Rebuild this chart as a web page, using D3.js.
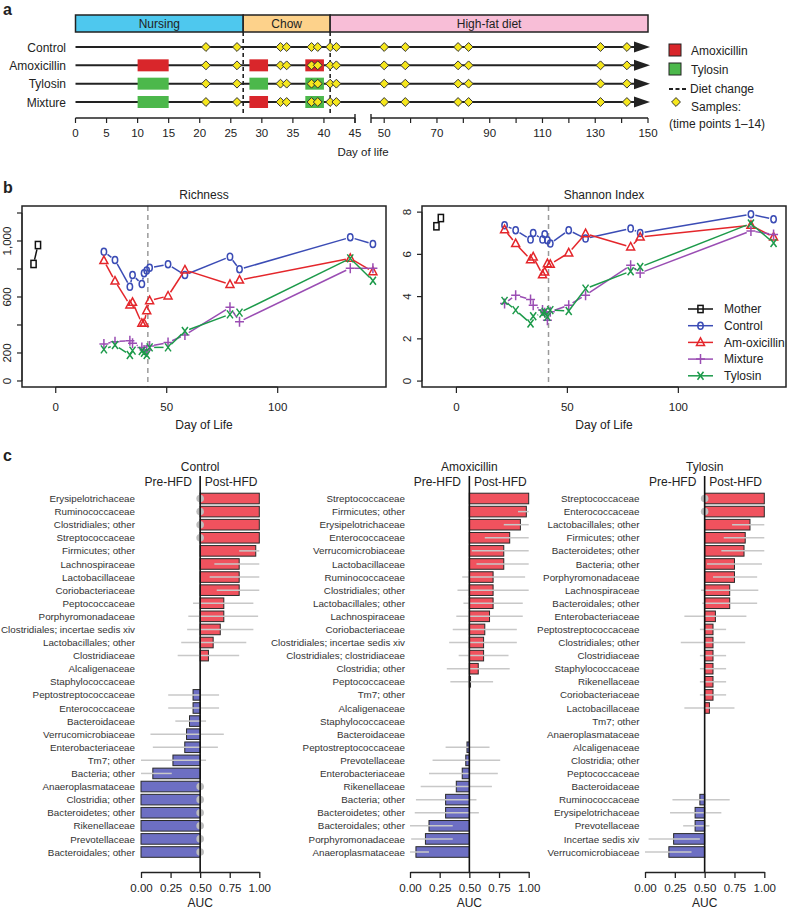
<!DOCTYPE html>
<html><head><meta charset="utf-8">
<script src="https://cdn.jsdelivr.net/npm/d3@7"></script>
<style>
body{margin:0;background:#fff;}
svg{font-family:"Liberation Sans",Arial,Helvetica,sans-serif;}
</style></head><body>
<svg id="chart" width="788" height="913"></svg>
<script>
// ================= DATA =================
// Panel a
const dietPhases = ["Nursing", "Chow", "High-fat diet"];
const dietStart = [0, 27, 41];
const dietEnd = [27, 41, 150];
const dietChangeDays = [27, 41];
const groupNames = ["Control", "Amoxicillin", "Tylosin", "Mixture"];
const sampleDays = [21, 26, 33, 34, 38, 39, 41, 42, 50, 58, 78, 82, 132, 142];
const treatGroup = ["Amoxicillin","Amoxicillin","Amoxicillin","Tylosin","Tylosin","Tylosin","Mixture","Mixture","Mixture"];
const treatStart = [10, 28, 37, 10, 28, 37, 10, 28, 37];
const treatEnd   = [15, 31, 40, 15, 31, 40, 15, 31, 40];
const treatDrug  = ["Amoxicillin","Amoxicillin","Amoxicillin","Tylosin","Tylosin","Tylosin","Tylosin","Amoxicillin","Tylosin"];
const axisTicksEarly = [0, 5, 10, 15, 20, 25, 30, 35, 40, 45];
const axisTicksLate = [50, 60, 70, 80, 90, 100, 110, 120, 130, 140, 150];
const axisLabelsLate = [50, 70, 90, 110, 130, 150];

// Panel b
const bDays = [21.7, 26.7, 33.4, 34.6, 38.8, 39.8, 41, 42.3, 50.6, 58.2, 78.5, 82.8, 132.7, 142.9];
const motherDaysRich = [-10, -8];
const motherRich = [836, 971];
const controlRich = [924, 864, 674, 757, 693, 770, 790, 809, 833, 757, 888, 798, 1026, 978];
const amoxRich    = [860, 714, 543, 562, 412, 412, 502, 574, 607, 793, 690, 721, 876, 781];
const mixRich     = [264, 281, 288, 269, 240, 221, 221, 250, 274, 329, 526, 424, 805, 805];
const tyloRich    = [226, 257, 186, 217, 214, 202, 186, 240, 240, 357, 476, 488, 876, 716];
const motherDaysShan = [-9, -7];
const motherShan = [7.33, 7.72];
const controlShan = [7.38, 7.14, 6.70, 7.01, 6.70, 6.95, 6.67, 6.51, 7.14, 6.75, 7.22, 7.01, 7.90, 7.66];
const amoxShan    = [7.17, 6.51, 5.75, 5.88, 5.04, 5.17, 5.56, 5.53, 6.07, 6.98, 6.35, 6.82, 7.38, 6.82];
const mixShan     = [3.67, 4.07, 3.86, 3.59, 3.36, 3.23, 2.88, 3.28, 3.59, 4.07, 5.48, 5.12, 7.11, 6.94];
const tyloShan    = [3.80, 3.36, 2.73, 3.07, 3.20, 3.28, 3.04, 3.36, 3.32, 4.38, 5.20, 5.40, 7.46, 6.54];
const legendNamesB = ["Mother", "Control", "Am-oxicillin", "Mixture", "Tylosin"];
const richTicks = [0, 200, 400, 600, 800, 1000, 1200];
const richLabels = [0, 200, 600, 1000];
const shanTicks = [0, 2, 4, 6, 8];
const dayTicksB = [0, 50, 100];
const dietChangeDayB = 41.5;

// Panel c
const ctrlCats = ["Erysipelotrichaceae","Ruminococcaceae","Clostridiales; other","Streptococcaceae","Firmicutes; other","Lachnospiraceae","Lactobacillaceae","Coriobacteriaceae","Peptococcaceae","Porphyromonadaceae","Clostridiales; incertae sedis xiv","Lactobacillales; other","Clostridiaceae","Alcaligenaceae","Staphylococcaceae","Peptostreptococcaceae","Enterococcaceae","Bacteroidaceae","Verrucomicrobiaceae","Enterobacteriaceae","Tm7; other","Bacteria; other","Anaeroplasmataceae","Clostridia; other","Bacteroidetes; other","Rikenellaceae","Prevotellaceae","Bacteroidales; other"];
const ctrlAUC = [1,1,1,1,0.97,0.83,0.83,0.83,0.70,0.70,0.67,0.61,0.57,0.5,0.5,0.44,0.44,0.41,0.385,0.37,0.27,0.10,0,0,0,0,0,0];
const ctrlLo = [0.5,0.5,0.5,0.5,0.83,0.62,0.58,0.64,0.44,0.40,0.39,0.34,0.31,null,null,0.23,0.23,0.29,0.08,0.10,0.0,0.0,0.5,0.5,0.5,0.5,0.5,0.5];
const ctrlHi = [0.5,0.5,0.5,0.5,1.0,1.0,1.0,1.0,0.95,0.99,0.95,0.89,0.83,null,null,0.66,0.66,0.55,0.70,0.65,0.55,0.26,0.5,0.5,0.5,0.5,0.5,0.5];

const amoxCats = ["Streptococcaceae","Firmicutes; other","Erysipelotrichaceae","Enterococcaceae","Verrucomicrobiaceae","Lactobacillaceae","Ruminococcaceae","Clostridiales; other","Lactobacillales; other","Lachnospiraceae","Coriobacteriaceae","Clostridiales; incertae sedis xiv","Clostridiales; clostridiaceae","Clostridia; other","Peptococcaceae","Tm7; other","Alcaligenaceae","Staphylococcaceae","Bacteroidaceae","Peptostreptococcaceae","Prevotellaceae","Enterobacteriaceae","Rikenellaceae","Bacteria; other","Bacteroidetes; other","Bacteroidales; other","Porphyromonadaceae","Anaeroplasmataceae"];
const amoxAUC = [1.0,0.98,0.93,0.84,0.79,0.79,0.70,0.70,0.70,0.67,0.63,0.62,0.62,0.575,0.51,0.5,0.5,0.5,0.5,0.48,0.47,0.44,0.39,0.30,0.30,0.16,0.13,0.05];
const amoxLo = [null,0.91,0.79,0.63,0.52,0.56,0.44,0.40,0.45,0.39,0.36,0.33,0.41,0.31,0.34,null,null,null,null,0.30,0.19,0.16,0.09,0.05,0.04,0.0,0.01,0.0];
const amoxHi = [null,1.0,1.0,1.0,1.0,1.0,0.97,1.0,0.95,0.95,0.90,0.90,0.83,0.84,0.70,null,null,null,null,0.67,0.76,0.74,0.69,0.56,0.58,0.36,0.36,0.16];

const tyloCats = ["Streptococcaceae","Enterococcaceae","Lactobacillales; other","Firmicutes; other","Bacteroidetes; other","Bacteria; other","Porphyromonadaceae","Lachnospiraceae","Bacteroidales; other","Enterobacteriaceae","Peptostreptococcaceae","Clostridiales; other","Clostridiaceae","Staphylococcaceae","Rikenellaceae","Coriobacteriaceae","Lactobacillaceae","Tm7; other","Anaeroplasmataceae","Alcaligenaceae","Clostridia; other","Peptococcaceae","Bacteroidaceae","Ruminococcaceae","Erysipelotrichaceae","Prevotellaceae","Incertae sedis xiv","Verrucomicrobiaceae"];
const tyloAUC = [1,1,0.88,0.84,0.83,0.75,0.75,0.71,0.71,0.59,0.57,0.57,0.57,0.57,0.57,0.57,0.54,0.5,0.5,0.5,0.5,0.5,0.5,0.46,0.42,0.42,0.24,0.20];
const tyloLo = [0.5,0.5,0.73,0.66,0.64,0.52,0.57,0.47,0.48,0.33,0.46,0.30,0.46,0.46,0.46,0.46,0.33,null,null,null,null,null,null,0.23,0.21,0.32,0.03,0.0];
const tyloHi = [0.5,0.5,1.0,1.0,1.0,0.98,0.94,0.95,0.94,0.85,0.68,0.84,0.68,0.68,0.68,0.68,0.75,null,null,null,null,null,null,0.71,0.64,0.54,0.46,0.39];
const aucTicks = [0, 0.25, 0.5, 0.75, 1];

// ================= DRAW =================
const svg = d3.select("#chart");
const INK = "#222";

// ---------- Panel a ----------
const pa = svg.append("g");
pa.append("text").attr("x", 3).attr("y", 15).attr("font-size", 16).attr("font-weight", "bold").attr("fill", INK).text("a");

const xa1 = d3.scaleLinear().domain([0, 45]).range([75.5, 355]);
const xa2 = d3.scaleLinear().domain([45, 150]).range([371, 648]);
const xa = d => d <= 45 ? xa1(d) : xa2(d);
const ya = d3.scalePoint().domain(groupNames).range([47, 102]);
const dietColors = ["#4ec8ee", "#fdd28b", "#f8bed7"];

dietPhases.forEach((p, i) => {
  pa.append("rect").attr("x", xa(dietStart[i])).attr("y", 15)
    .attr("width", xa(dietEnd[i]) - xa(dietStart[i])).attr("height", 17)
    .attr("fill", dietColors[i]).attr("stroke", INK).attr("stroke-width", 1.5);
  pa.append("text").attr("x", (xa(dietStart[i]) + xa(dietEnd[i])) / 2).attr("y", 28)
    .attr("text-anchor", "middle").attr("font-size", 12).attr("fill", INK).text(p);
});

dietChangeDays.forEach(d => {
  pa.append("line").attr("x1", xa(d)).attr("x2", xa(d)).attr("y1", 32).attr("y2", 116)
    .attr("stroke", INK).attr("stroke-width", 1.6).attr("stroke-dasharray", "4,3");
});

const drugColor = {"Amoxicillin": "#d9262b", "Tylosin": "#4cb84b"};
const diamond = d3.symbol().type(d3.symbolDiamond2).size(50);

groupNames.forEach(g => {
  const y = ya(g);
  pa.append("line").attr("x1", xa(0)).attr("x2", 638).attr("y1", y).attr("y2", y)
    .attr("stroke", INK).attr("stroke-width", 2);
  pa.append("path").attr("d", `M634,${y - 5.5}L650,${y}L634,${y + 5.5}Z`).attr("fill", INK);
  pa.append("text").attr("x", 66).attr("y", y + 4.5).attr("text-anchor", "end")
    .attr("font-size", 12).attr("fill", INK).text(g);
});

treatGroup.forEach((g, i) => {
  pa.append("rect").attr("x", xa(treatStart[i])).attr("y", ya(g) - 6)
    .attr("width", xa(treatEnd[i]) - xa(treatStart[i])).attr("height", 12)
    .attr("fill", drugColor[treatDrug[i]]);
});

groupNames.forEach(g => {
  sampleDays.forEach(d => {
    pa.append("path").attr("d", diamond).attr("transform", `translate(${xa(d)},${ya(g)})`)
      .attr("fill", "#f6e71c").attr("stroke", "#333").attr("stroke-width", 1);
  });
});

// timeline axis
const ay = 118;
pa.append("line").attr("x1", xa1(0)).attr("x2", xa1(45)).attr("y1", ay).attr("y2", ay).attr("stroke", INK).attr("stroke-width", 1.4);
pa.append("line").attr("x1", xa2(45)).attr("x2", xa2(150)).attr("y1", ay).attr("y2", ay).attr("stroke", INK).attr("stroke-width", 1.4);
[xa1(45), xa2(45)].forEach(x => pa.append("line").attr("x1", x).attr("x2", x).attr("y1", ay - 4).attr("y2", ay + 5).attr("stroke", INK).attr("stroke-width", 1.4));
axisTicksEarly.forEach(d => {
  pa.append("line").attr("x1", xa1(d)).attr("x2", xa1(d)).attr("y1", ay).attr("y2", ay + 5).attr("stroke", INK).attr("stroke-width", 1.2);
  pa.append("text").attr("x", xa1(d)).attr("y", ay + 19).attr("text-anchor", "middle").attr("font-size", 11.5).attr("fill", INK).text(d);
});
axisTicksLate.forEach(d => {
  pa.append("line").attr("x1", xa2(d)).attr("x2", xa2(d)).attr("y1", ay).attr("y2", ay + 5).attr("stroke", INK).attr("stroke-width", 1.2);
});
axisLabelsLate.forEach(d => {
  pa.append("text").attr("x", xa2(d)).attr("y", ay + 19).attr("text-anchor", "middle").attr("font-size", 11.5).attr("fill", INK).text(d);
});
pa.append("text").attr("x", 363).attr("y", 156).attr("text-anchor", "middle").attr("font-size", 11.5).attr("fill", INK).text("Day of life");

// legend a
const la = pa.append("g");
la.append("rect").attr("x", 669).attr("y", 44).attr("width", 12).attr("height", 12).attr("fill", drugColor.Amoxicillin).attr("stroke", INK);
la.append("text").attr("x", 691).attr("y", 54.5).attr("font-size", 12).attr("fill", INK).text("Amoxicillin");
la.append("rect").attr("x", 669).attr("y", 63).attr("width", 12).attr("height", 12).attr("fill", drugColor.Tylosin).attr("stroke", INK);
la.append("text").attr("x", 691).attr("y", 73.5).attr("font-size", 12).attr("fill", INK).text("Tylosin");
la.append("line").attr("x1", 669).attr("x2", 687).attr("y1", 89).attr("y2", 89).attr("stroke", INK).attr("stroke-width", 1.8).attr("stroke-dasharray", "4,2.5");
la.append("text").attr("x", 690).attr("y", 93).attr("font-size", 12).attr("fill", INK).text("Diet change");
la.append("path").attr("d", diamond).attr("transform", "translate(676,102)").attr("fill", "#f6e71c").attr("stroke", "#333");
la.append("text").attr("x", 691).attr("y", 111).attr("font-size", 12).attr("fill", INK).text("Samples:");
la.append("text").attr("x", 669).attr("y", 128).attr("font-size", 12).attr("fill", INK).text("(time points 1\u201314)");

// ---------- Panel b ----------
svg.append("text").attr("x", 3).attr("y", 193).attr("font-size", 16).attr("font-weight", "bold").attr("fill", INK).text("b");

const seriesColors = {Mother: "#111", Control: "#3b4cb5", Amox: "#e4262b", Mix: "#9a4db3", Tylo: "#1c9a4a"};
const markerType = {Mother: "square", Control: "circle", Amox: "triangle", Mix: "plus", Tylo: "cross"};

function marker(g, type, x, y, color) {
  let p;
  if (type === "square") p = g.append("rect").attr("x", x - 2.6).attr("y", y - 3.6).attr("width", 5.2).attr("height", 7.2);
  else if (type === "circle") p = g.append("ellipse").attr("cx", x).attr("cy", y).attr("rx", 2.7).attr("ry", 3.5);
  else if (type === "triangle") p = g.append("path").attr("d", `M${x},${y - 4.5}L${x + 4},${y + 3}L${x - 4},${y + 3}Z`);
  else if (type === "plus") p = g.append("path").attr("d", `M${x - 4.5},${y}L${x + 4.5},${y}M${x},${y - 5}L${x},${y + 5}`);
  else p = g.append("path").attr("d", `M${x - 3},${y - 4}L${x + 3},${y + 4}M${x + 3},${y - 4}L${x - 3},${y + 4}`);
  p.attr("fill", "none").attr("stroke", color).attr("stroke-width", 1.5);
}

function series(g, xs, ys, days, vals, key) {
  const color = seriesColors[key];
  const pts = days.map((d, i) => [xs(d), ys(vals[i])]);
  const gap = 4.5;
  for (let i = 0; i < pts.length - 1; i++) {
    const [x1, y1] = pts[i], [x2, y2] = pts[i + 1];
    const dx = x2 - x1, dy = y2 - y1, L = Math.hypot(dx, dy);
    if (L > 2 * gap + 0.5) {
      const ux = dx / L, uy = dy / L;
      g.append("line").attr("x1", x1 + ux * gap).attr("y1", y1 + uy * gap)
        .attr("x2", x2 - ux * gap).attr("y2", y2 - uy * gap)
        .attr("stroke", color).attr("stroke-width", 1.5);
    }
  }
  pts.forEach(p => marker(g, markerType[key], p[0], p[1], color));
}

function panelB(cfg) {
  const g = svg.append("g");
  const xs = d3.scaleLinear().domain(cfg.xDom).range([cfg.x0, cfg.x1]);
  const ys = d3.scaleLinear().domain(cfg.yDom).range([387, 206]);
  g.append("text").attr("x", (cfg.x0 + cfg.x1) / 2).attr("y", 199).attr("text-anchor", "middle").attr("font-size", 12).attr("fill", INK).text(cfg.title);
  // dashed diet change
  g.append("line").attr("x1", xs(dietChangeDayB)).attr("x2", xs(dietChangeDayB)).attr("y1", 206).attr("y2", 387)
    .attr("stroke", "#9a9a9a").attr("stroke-width", 1.5).attr("stroke-dasharray", "5,4");
  // y ticks
  cfg.yTicks.forEach(t => g.append("line").attr("x1", cfg.x0 - 5).attr("x2", cfg.x0).attr("y1", ys(t)).attr("y2", ys(t)).attr("stroke", INK).attr("stroke-width", 1.2));
  g.append("line").attr("x1", cfg.x0).attr("x2", cfg.x0).attr("y1", ys(cfg.yTicks[0])).attr("y2", ys(cfg.yTicks[cfg.yTicks.length - 1])).attr("stroke", INK);
  cfg.yLabels.forEach(t => g.append("text").attr("transform", `translate(${cfg.x0 - 11},${ys(t)}) rotate(-90)`)
    .attr("text-anchor", "middle").attr("font-size", 11.5).attr("fill", INK).text(d3.format(",")(t)));
  // x ticks
  dayTicksB.forEach(t => {
    g.append("line").attr("x1", xs(t)).attr("x2", xs(t)).attr("y1", 387).attr("y2", 393).attr("stroke", INK).attr("stroke-width", 1.2);
    g.append("text").attr("x", xs(t)).attr("y", 411).attr("text-anchor", "middle").attr("font-size", 11.5).attr("fill", INK).text(t);
  });
  g.append("line").attr("x1", xs(0)).attr("x2", xs(100)).attr("y1", 387).attr("y2", 387).attr("stroke", INK);
  g.append("text").attr("x", (cfg.x0 + cfg.x1) / 2).attr("y", 429).attr("text-anchor", "middle").attr("font-size", 12).attr("fill", INK).text("Day of Life");
  // series
  series(g, xs, ys, cfg.motherDays, cfg.mother, "Mother");
  series(g, xs, ys, bDays, cfg.control, "Control");
  series(g, xs, ys, bDays, cfg.amox, "Amox");
  series(g, xs, ys, bDays, cfg.mix, "Mix");
  series(g, xs, ys, bDays, cfg.tylo, "Tylo");
  // box
  g.append("rect").attr("x", cfg.x0).attr("y", 206).attr("width", cfg.x1 - cfg.x0).attr("height", 181)
    .attr("fill", "none").attr("stroke", INK).attr("stroke-width", 1.5);
  return g;
}

panelB({title: "Richness", x0: 22, x1: 386, xDom: [-15.2, 148.8], yDom: [-43, 1250],
  yTicks: richTicks, yLabels: richLabels, motherDays: motherDaysRich, mother: motherRich,
  control: controlRich, amox: amoxRich, mix: mixRich, tylo: tyloRich});
const gShan = panelB({title: "Shannon Index", x0: 422, x1: 786, xDom: [-15.5, 148.5], yDom: [-0.28, 8.29],
  yTicks: shanTicks, yLabels: shanTicks, motherDays: motherDaysShan, mother: motherShan,
  control: controlShan, amox: amoxShan, mix: mixShan, tylo: tyloShan});

// legend b
const legKeys = ["Mother", "Control", "Amox", "Mix", "Tylo"];
legKeys.forEach((k, i) => {
  const y = 309 + i * 16.7;
  gShan.append("line").attr("x1", 688).attr("x2", 713).attr("y1", y).attr("y2", y).attr("stroke", seriesColors[k]).attr("stroke-width", 1.5);
  marker(gShan, markerType[k], 700.5, y, seriesColors[k]);
  gShan.append("text").attr("x", 724).attr("y", y + 4.3).attr("font-size", 12).attr("fill", INK).text(legendNamesB[i]);
});

// ---------- Panel c ----------
svg.append("text").attr("x", 3).attr("y", 461).attr("font-size", 16).attr("font-weight", "bold").attr("fill", INK).text("c");

const cPanels = [
  {title: "Control", cats: ctrlCats, auc: ctrlAUC, lo: ctrlLo, hi: ctrlHi, x0: 141, x1: 259.3, labelX: 135},
  {title: "Amoxicillin", cats: amoxCats, auc: amoxAUC, lo: amoxLo, hi: amoxHi, x0: 410, x1: 528.7, labelX: 405},
  {title: "Tylosin", cats: tyloCats, auc: tyloAUC, lo: tyloLo, hi: tyloHi, x0: 645, x1: 764.3, labelX: 639.5}
];
const barH = 10.6;
cPanels.forEach(p => {
  const g = svg.append("g");
  const x = d3.scaleLinear().domain([0, 1]).range([p.x0, p.x1]);
  const y = d3.scalePoint().domain(p.cats).range([498.5, 852]);
  const mid = x(0.5);
  p.cats.forEach((c, i) => {
    const v = p.auc[i];
    g.append("text").attr("x", p.labelX).attr("y", y(c) + 3.6).attr("text-anchor", "end")
      .attr("font-size", 9.8).attr("fill", "#333").text(c);
    if (v !== 0.5) {
      g.append("rect").attr("x", Math.min(x(v), mid)).attr("y", y(c) - barH / 2)
        .attr("width", Math.abs(x(v) - mid)).attr("height", barH)
        .attr("fill", v > 0.5 ? "#f0525e" : "#6d6fc3").attr("stroke", "#2a2a2a").attr("stroke-width", 1);
    }
  });
  p.cats.forEach((c, i) => {
    const lo = p.lo[i], hi = p.hi[i];
    if (lo === null) return;
    if (lo === hi) {
      g.append("circle").attr("cx", x(lo)).attr("cy", y(c)).attr("r", 3.8).attr("fill", "#bdbdbd");
    } else {
      g.append("line").attr("x1", x(lo)).attr("x2", x(hi)).attr("y1", y(c)).attr("y2", y(c))
        .attr("stroke", "#c8c8c8").attr("stroke-width", 1.5);
    }
  });
  g.append("line").attr("x1", mid).attr("x2", mid).attr("y1", 476).attr("y2", 872).attr("stroke", "#111").attr("stroke-width", 1.6);
  g.append("text").attr("x", mid).attr("y", 471).attr("text-anchor", "middle").attr("font-size", 12).attr("fill", INK).text(p.title);
  g.append("text").attr("x", mid - 32).attr("y", 486).attr("text-anchor", "middle").attr("font-size", 12).attr("fill", INK).text("Pre-HFD");
  g.append("text").attr("x", mid + 31).attr("y", 486).attr("text-anchor", "middle").attr("font-size", 12).attr("fill", INK).text("Post-HFD");
  const ax = g.append("g").attr("transform", "translate(0,872)")
    .call(d3.axisBottom(x).tickValues(aucTicks).tickFormat(d3.format(".2f")).tickSize(6).tickSizeOuter(0));
  ax.select(".domain").attr("stroke", INK).attr("stroke-width", 1.3);
  ax.selectAll(".tick line").attr("stroke", INK).attr("stroke-width", 1.3);
  ax.selectAll(".tick text").attr("font-size", 11.5).attr("fill", INK).attr("font-family", '"Liberation Sans",Arial,sans-serif').attr("dy", "0.95em");
  g.append("text").attr("x", mid).attr("y", 907).attr("text-anchor", "middle").attr("font-size", 12).attr("fill", INK).text("AUC");
});
</script>
</body></html>
